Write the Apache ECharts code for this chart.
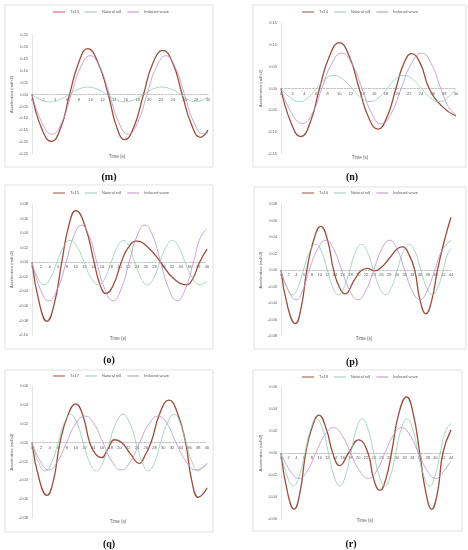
<!DOCTYPE html>
<html>
<head>
<meta charset="utf-8">
<script src="https://cdn.jsdelivr.net/npm/echarts@6/dist/echarts.min.js"></script>
<style>
  html, body { margin: 0; padding: 0; background: #fff; }
  #main { width: 468px; height: 550px; }
</style>
</head>
<body>
<div id="main"></div>
<script>
// six roll-acceleration panels (m)-(r); each series is [time s, rad/s2]

const seriesNames = ['Natural roll', 'Induced wave'];
const panelTx = ['Tx13', 'Tx14', 'Tx15', 'Tx16', 'Tx17', 'Tx18'];
const panelLetters = ['(m)', '(n)', '(o)', '(p)', '(q)', '(r)'];
const panelXMax = [30, 30, 40, 44, 40, 44];
const panelYMin = [-0.25, -0.15, -0.10, -0.08, -0.08, -0.06];
const panelYMax = [0.25, 0.15, 0.08, 0.08, 0.06, 0.06];
const panelYStep = [0.05, 0.05, 0.02, 0.02, 0.02, 0.02];

// (m)
const mTx = [[0,0],[1.6,-0.14],[3.3,-0.197],[4.9,-0.14],[6.4,0],[8,0.137],[9.5,0.193],[11.2,0.137],[13,0],[14.4,-0.134],[15.8,-0.19],[17.4,-0.134],[19,0],[20.6,0.131],[22.3,0.185],[24,0.131],[25.6,0],[27.2,-0.127],[28.7,-0.18],[30,-0.15]];
const mRoll = [[0,0],[1.5,-0.022],[3,-0.031],[4.65,-0.022],[6.3,0],[7.9,0.022],[9.5,0.031],[11.15,0.022],[12.8,0],[14.35,-0.022],[15.9,-0.031],[17.45,-0.022],[19,0],[20.55,0.022],[22.1,0.031],[23.75,0.022],[25.4,0],[26.6,-0.022],[28,-0.03],[30,-0.01]];
const mWave = [[0,0],[1.7,-0.118],[3.4,-0.167],[5.05,-0.118],[6.7,0],[8.3,0.115],[9.9,0.163],[11.55,0.115],[13.2,0],[14.8,-0.118],[16.4,-0.167],[18,-0.118],[19.6,0],[21.2,0.115],[22.8,0.163],[24.4,0.115],[26,0],[27.6,-0.117],[29.2,-0.165],[30,-0.16]];

// (n)
const nTx = [[0,0],[1.7,-0.078],[3.4,-0.110],[5,-0.078],[6.6,0],[8.3,0.074],[10,0.105],[11.7,0.074],[13.4,0],[15,-0.066],[16.6,-0.093],[18.15,-0.066],[19.7,0],[21.05,0.057],[22.4,0.080],[23.9,0.057],[25.4,0],[27.7,-0.042],[30,-0.063]];
const nRoll = [[0,0],[1.6,-0.021],[3.2,-0.030],[4.65,-0.021],[6.1,0],[7.55,0.021],[9,0.030],[10.6,0.021],[12.2,0],[13.75,-0.021],[15.3,-0.030],[16.75,-0.021],[18.2,0],[19.6,0.021],[21,0.030],[22.55,0.021],[24.1,0],[25.6,-0.021],[27.1,-0.030],[28.55,-0.021],[30,0]];
const nWave = [[0,0],[1.85,-0.057],[3.7,-0.080],[5.35,-0.057],[7,0],[8.7,0.057],[10.4,0.081],[12.15,0.057],[13.9,0],[15.55,-0.057],[17.2,-0.081],[18.9,-0.057],[20.6,0],[22.35,0.057],[24.1,0.081],[25.75,0.057],[27.4,0],[28.7,-0.042],[30,-0.061]];

// (o)
const oTx = [[0,0],[1.7,-0.057],[3.4,-0.081],[5.1,-0.057],[6.8,0],[8.4,0.050],[10,0.071],[12.1,0.050],[14.2,0],[15.5,-0.030],[16.9,-0.043],[18.7,-0.030],[20.4,0],[22.1,0.021],[23.9,0.029],[26.6,0.020],[29.4,0],[32.3,-0.022],[35.4,-0.031],[36.8,-0.022],[38.3,0],[40,0.018]];
const oRoll = [[0,0],[1.35,-0.022],[2.7,-0.031],[4.2,-0.022],[5.7,0],[7.2,0.021],[8.7,0.030],[10.3,0.021],[11.9,0],[13.55,-0.022],[15.2,-0.031],[16.65,-0.022],[18.1,0],[19.5,0.021],[20.9,0.030],[22.2,0.021],[23.5,0],[24.95,-0.022],[26.4,-0.031],[27.8,-0.022],[29.2,0],[30.65,0.021],[32.1,0.030],[33.55,0.021],[35,0],[36.7,-0.022],[38.5,-0.031],[40,-0.026]];
const oWave = [[0,0],[1.9,-0.037],[3.8,-0.053],[5.8,-0.037],[7.8,0],[9.55,0.036],[11.3,0.051],[13.05,0.036],[14.8,0],[16.65,-0.037],[18.5,-0.053],[20.35,-0.037],[22.2,0],[24,0.036],[25.8,0.051],[27.6,0.036],[29.4,0],[31.3,-0.037],[33.2,-0.053],[35.05,-0.037],[36.9,0],[38.5,0.034],[40,0.046]];

// (p)
const pTx = [[0,0],[1.8,-0.046],[3.7,-0.065],[5.2,-0.046],[6.7,0],[8.5,0.037],[10.3,0.053],[12,0.037],[13.6,0],[15.1,-0.021],[16.5,-0.029],[19,-0.012],[20.7,-0.001],[22.4,0.002],[24.1,-0.001],[25.9,0.003],[28,0.014],[30.2,0.026],[31.5,0.028],[33.2,0.018],[34.6,0],[36,-0.037],[37.5,-0.053],[39,-0.037],[40.5,0],[42.3,0.036],[44,0.064]];
const pRoll = [[0,0],[1.5,-0.021],[3,-0.030],[4.4,-0.021],[5.8,0],[7.4,0.022],[9,0.031],[10.5,0.022],[12,0],[13.4,-0.021],[14.8,-0.030],[16.3,-0.021],[17.8,0],[19.3,0.022],[20.8,0.031],[22.35,0.022],[23.9,0],[25.5,-0.021],[27.1,-0.030],[28.6,-0.021],[30.1,0],[31.65,0.022],[33.2,0.031],[34.7,0.022],[36.2,0],[37.7,-0.021],[39.2,-0.030],[40.6,-0.021],[42,0],[43,0.018],[44,0.026]];
const pWave = [[0,0],[1.95,-0.025],[3.9,-0.036],[5.6,-0.025],[7.3,0],[9.45,0.025],[11.6,0.036],[13.65,0.025],[15.7,0],[17.8,-0.025],[19.9,-0.036],[21.95,-0.025],[24,0],[26.05,0.025],[28.1,0.036],[30.05,0.025],[32,0],[33.95,-0.025],[35.9,-0.036],[37.85,-0.025],[39.8,0],[41.8,0.025],[44,0.036]];

// (q)
const qTx = [[0,0],[1.7,-0.040],[3.4,-0.056],[4.9,-0.040],[6.4,0],[8.2,0.029],[10,0.041],[11.6,0.029],[13.2,0],[14.5,-0.012],[15.9,-0.016],[17.2,-0.008],[18.9,0.003],[20.5,0],[22.5,-0.012],[24.5,-0.022],[25.9,-0.013],[27.2,0],[29.3,0.032],[31.3,0.045],[33.2,0.032],[35.1,0],[36.5,-0.040],[38,-0.058],[39,-0.055],[40,-0.048]];
const qRoll = [[0,0],[1.5,-0.021],[3,-0.030],[4.5,-0.021],[6,0],[7.4,0.021],[8.8,0.030],[10.25,0.021],[11.7,0],[13.2,-0.021],[14.7,-0.030],[16.2,-0.021],[17.7,0],[19.25,0.021],[20.8,0.030],[22.3,0.021],[23.8,0],[25.2,-0.021],[26.6,-0.030],[28,-0.021],[29.4,0],[30.95,0.021],[32.5,0.030],[33.85,0.021],[35.2,0],[36.6,-0.021],[38,-0.030],[40,-0.022]];
const qWave = [[0,0],[1.9,-0.020],[3.8,-0.029],[5.85,-0.020],[7.9,0],[10,0.020],[12.1,0.028],[14.15,0.020],[16.2,0],[18.3,-0.020],[20.4,-0.029],[22.5,-0.020],[24.6,0],[26.75,0.020],[28.9,0.028],[30.9,0.020],[32.9,0],[35.2,-0.020],[37.5,-0.029],[40,-0.022]];

// (r)
const rTx = [[0,0],[1.7,-0.036],[3.4,-0.051],[4.9,-0.036],[6.4,0],[8.1,0.024],[9.8,0.0345],[11.7,0.022],[13.4,0],[15.2,-0.0115],[17.5,0],[20.1,0.012],[22.5,0],[24,-0.024],[25.6,-0.034],[27.1,-0.024],[28.6,0],[30.5,0.036],[32.5,0.051],[34.2,0.036],[35.9,0],[37.5,-0.036],[39,-0.051],[40.5,-0.036],[41.9,0],[44,0.021]];
const rRoll = [[0,0],[1.6,-0.021],[3.2,-0.030],[4.7,-0.021],[6.2,0],[7.7,0.022],[9.2,0.031],[10.75,0.022],[12.3,0],[13.75,-0.021],[15.2,-0.030],[16.65,-0.021],[18.1,0],[19.55,0.022],[21,0.031],[22.5,0.022],[24,0],[25.45,-0.021],[26.9,-0.030],[28.3,-0.021],[29.7,0],[31.15,0.022],[32.6,0.031],[34.05,0.022],[35.5,0],[37,-0.021],[38.5,-0.030],[39.85,-0.021],[41.2,0],[42.6,0.020],[44,0.027]];
const rWave = [[0,0],[2.35,-0.016],[4.7,-0.023],[6.85,-0.016],[9,0],[11.3,0.016],[13.6,0.023],[15.8,0.016],[18,0],[20.3,-0.016],[22.6,-0.023],[24.75,-0.016],[26.9,0],[29.05,0.016],[31.2,0.023],[33.4,0.016],[35.6,0],[37.85,-0.016],[40.1,-0.023],[42,-0.017],[44,-0.007]];

const panelData = [
  [mTx, mRoll, mWave],
  [nTx, nRoll, nWave],
  [oTx, oRoll, oWave],
  [pTx, pRoll, pWave],
  [qTx, qRoll, qWave],
  [rTx, rRoll, rWave],
];

// layout, pixels
const layout = [
  { grid: [32, 35, 176, 119],  box: [5, 5, 208, 162],   legend: [53, 10],   time: [117, 157], cap: [109, 177] },
  { grid: [281, 23, 175, 131], box: [253, 5, 213, 162], legend: [302, 10],  time: [360, 158], cap: [352, 177] },
  { grid: [32, 204, 175, 131], box: [5, 185, 208, 164], legend: [53, 191],  time: [118, 339], cap: [109, 360] },
  { grid: [281, 204, 170, 132], box: [254, 187, 212, 162], legend: [302, 191], time: [364, 339], cap: [352, 362] },
  { grid: [32, 386, 175, 132], box: [5, 370, 208, 162], legend: [53, 374],  time: [118, 522], cap: [109, 544] },
  { grid: [281, 387, 170, 132], box: [253, 370, 209, 161], legend: [302, 375], time: [365, 521], cap: [351, 544] },
];

const FONT = 'Liberation Sans';
const TX_COLOR = '#9a4e3b';
const ROLL_COLOR = '#93cbad';
const WAVE_COLOR = '#bc8fca';

const grids = [], xAxes = [], yAxes = [], series = [], legends = [], graphics = [];

layout.forEach((L, i) => {
  const [gl, gt, gw, gh] = L.grid;
  grids.push({ left: gl, top: gt, width: gw, height: gh });

  // time axis drawn along y = 0 (moved up from the grid bottom)
  const zeroUp = gh * (0 - panelYMin[i]) / (panelYMax[i] - panelYMin[i]);
  xAxes.push({
    gridIndex: i, type: 'value', min: 0, max: panelXMax[i], interval: 2,
    position: 'bottom', offset: -zeroUp,
    axisLine: { onZero: false, lineStyle: { color: '#a6a6a6', width: 0.7, type: [2, 1.5] } },
    axisTick: { show: false },
    axisLabel: { fontSize: 4, color: '#595959', margin: 3, fontFamily: FONT },
    splitLine: { show: false },
  });

  yAxes.push({
    gridIndex: i, type: 'value', min: panelYMin[i], max: panelYMax[i], interval: panelYStep[i],
    name: 'Acceleration (rad/s2)', nameLocation: 'middle', nameGap: 18, nameRotate: 90,
    nameTextStyle: { fontSize: 4, color: '#595959', fontFamily: FONT },
    axisLine: { show: true, lineStyle: { color: '#d9d9d9', width: 0.7 } },
    axisTick: { show: false },
    axisLabel: { fontSize: 4, color: '#595959', margin: 4, fontFamily: FONT,
      formatter: v => v.toFixed(2) },
    splitLine: { show: false },
  });

  const names = [panelTx[i], seriesNames[0], seriesNames[1]];
  const colors = [TX_COLOR, ROLL_COLOR, WAVE_COLOR];
  const widths = [1.3, 0.8, 0.8];
  panelData[i].forEach((d, k) => {
    series.push({
      name: names[k], type: 'line', xAxisIndex: i, yAxisIndex: i,
      data: d, smooth: 0.5, symbol: 'none', showSymbol: false, silent: true,
      lineStyle: { color: colors[k], width: widths[k] },
      itemStyle: { color: colors[k] },
      z: 3 + (k === 0 ? 0 : 1),
    });
  });

  const legendData = names.map(n => ({ name: n, icon: 'rect' }));
  if (i === 0) {
    legendData[0].itemStyle = { color: '#e2495c' };
  }
  legends.push({
    data: legendData, left: L.legend[0], top: L.legend[1],
    itemWidth: 12, itemHeight: 1, itemGap: 6, padding: 0,
    textStyle: { fontSize: 4, color: '#595959', fontFamily: FONT },
    selectedMode: false,
  });

  const [bx, by, bw, bh] = L.box;
  graphics.push({
    type: 'rect', z: -10, silent: true,
    shape: { x: bx, y: by, width: bw, height: bh },
    style: { fill: '#fff', stroke: '#d9d9d9', lineWidth: 0.8 },
  });
  graphics.push({
    type: 'text', silent: true, x: L.time[0], y: L.time[1],
    style: { text: 'Time (s)', fontSize: 4.5, fill: '#595959', fontFamily: FONT,
      align: 'center', verticalAlign: 'middle' },
  });
  graphics.push({
    type: 'text', silent: true, x: L.cap[0], y: L.cap[1],
    style: { text: panelLetters[i], fontSize: 10, fontWeight: 'bold', fill: '#111',
      fontFamily: 'Liberation Serif', align: 'center', verticalAlign: 'middle' },
  });
});

const chart = echarts.init(document.getElementById('main'));
chart.setOption({
  backgroundColor: '#fff',
  animation: false,
  grid: grids,
  xAxis: xAxes,
  yAxis: yAxes,
  legend: legends,
  graphic: graphics,
  series: series,
});
</script>
</body>
</html>
